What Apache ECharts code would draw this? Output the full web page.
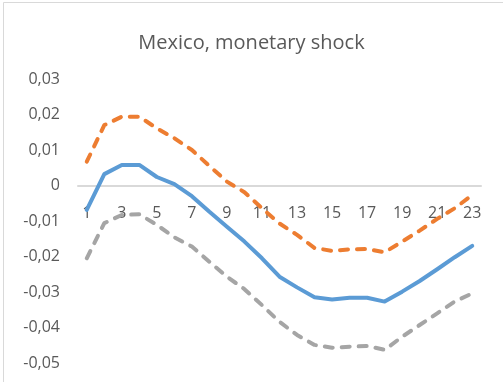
<!DOCTYPE html>
<html>
<head>
<meta charset="utf-8">
<script src="https://cdn.jsdelivr.net/npm/echarts@6/dist/echarts.min.js"></script>
<style>html,body{margin:0;padding:0;background:#fff;}#c{width:503px;height:382px;}</style>
</head>
<body>
<div id="c"></div>
<script>
var titleText = 'Mexico, monetary shock';
var categories = ['1','2','3','4','5','6','7','8','9','10','11','12','13','14','15','16','17','18','19','20','21','22','23'];
var central = [-0.0069,0.0032,0.0058,0.0058,0.0024,0.0004,-0.0030,-0.0074,-0.0116,-0.0158,-0.0205,-0.0257,-0.0287,-0.0315,-0.0321,-0.0316,-0.0316,-0.0327,-0.0299,-0.0269,-0.0236,-0.0202,-0.0170];
var upper = [0.0067,0.0170,0.0194,0.0194,0.0161,0.0133,0.0100,0.0055,0.0011,-0.0019,-0.0064,-0.0107,-0.0139,-0.0176,-0.0184,-0.0180,-0.0179,-0.0188,-0.0158,-0.0127,-0.0094,-0.0064,-0.0027];
var lower = [-0.0205,-0.0106,-0.0083,-0.0081,-0.0111,-0.0146,-0.0172,-0.0215,-0.0257,-0.0292,-0.0337,-0.0384,-0.0421,-0.0449,-0.0457,-0.0454,-0.0452,-0.0463,-0.0426,-0.0393,-0.0360,-0.0327,-0.0304];
var yMin = -0.05, yMax = 0.03, yStep = 0.01;

var FONT = 'Open Sans';
var chart = echarts.init(document.getElementById('c'), null, {renderer:'canvas'});
var option = {
  animation: false,
  backgroundColor: '#ffffff',
  graphic: [{
    type: 'rect', shape: {x: 3.5, y: 2.5, width: 520, height: 400},
    style: {fill: 'none', stroke: '#d9d9d9', lineWidth: 1}, silent: true, z: -1
  }],
  title: {
    text: titleText, left: 'center', top: 28,
    textStyle: {fontFamily: FONT, fontSize: 20, fontWeight: 'normal', color: '#595959'}
  },
  grid: {left: 78, right: 22, top: 79, bottom: 19, containLabel: false, outerBoundsMode: 'none'},
  xAxis: {
    type: 'category', data: categories, boundaryGap: true,
    axisLine: {show: true, onZero: true, lineStyle: {color: '#d9d9d9', width: 2}},
    axisTick: {show: false},
    axisLabel: {interval: 1, margin: 15, fontFamily: FONT, fontSize: 16, color: '#595959'},
    splitLine: {show: false}
  },
  yAxis: {
    type: 'value', min: yMin, max: yMax, interval: yStep,
    axisLine: {show: false}, axisTick: {show: false}, splitLine: {show: false},
    axisLabel: {
      margin: 18, fontFamily: FONT, fontSize: 16, color: '#595959',
      formatter: function (v) {
        var r = Math.round(v * 100) / 100;
        if (r === 0) return '0';
        return r.toFixed(2).replace('.', ',');
      }
    }
  },
  series: [
    {type: 'line', data: central, symbol: 'none', lineStyle: {color: '#5b9bd5', width: 4, cap: 'round', join: 'round'}, z: 3},
    {type: 'line', data: upper, symbol: 'none', lineStyle: {color: '#ed7d31', width: 4, type: [8, 9], cap: 'round', join: 'round'}, z: 2},
    {type: 'line', data: lower, symbol: 'none', lineStyle: {color: '#a5a5a5', width: 4, type: [8, 9], cap: 'round', join: 'round'}, z: 2}
  ]
};
chart.setOption(option);
// place x labels just under the zero line (labels are laid out from the grid bottom)
var zeroY = chart.convertToPixel({yAxisIndex: 0}, 0);
var bottomY = chart.convertToPixel({yAxisIndex: 0}, yMin);
chart.setOption({xAxis: {axisLabel: {margin: Math.round(zeroY - bottomY + 19)}}});
</script>
</body>
</html>
